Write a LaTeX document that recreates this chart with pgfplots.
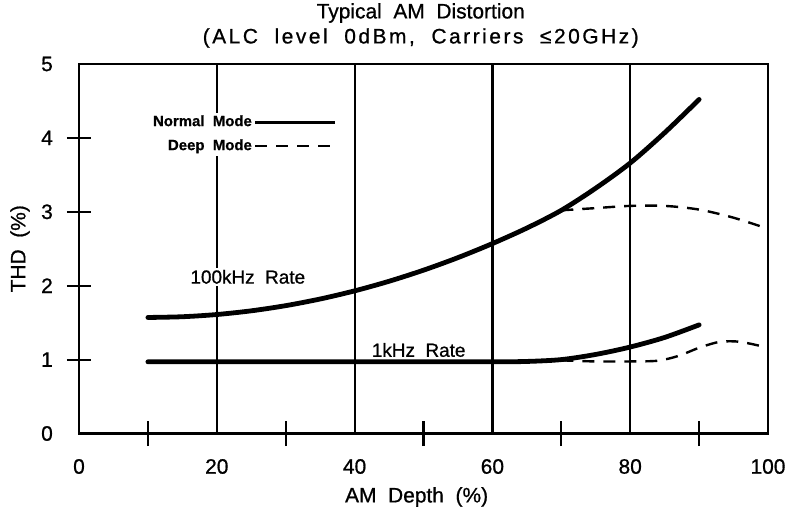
\documentclass[border=0pt]{standalone}
\usepackage{fontspec}
\setmainfont{Liberation Sans}[FakeBold=0.8]
\usepackage{pgfplots}
\pgfplotsset{compat=1.18}
\begin{document}
\begin{tikzpicture}
\begin{axis}[
  scale only axis, width=344.5bp, height=184.75bp,
  xmin=0, xmax=100, ymin=0, ymax=5,
  clip=false,
  axis line style={line width=1.4bp},
  xtick={0,20,...,100}, ytick={0,1,...,5},
  major tick length=0pt,
  xtick pos=bottom, ytick pos=left,
  xmajorgrids, major x grid style={line width=1.1bp, black},
  extra x ticks={10,30,50,70,90}, extra x tick labels={},
  extra x tick style={grid=none, major tick length=12.5bp, tick align=center, tick style={line width=1.1bp, black}},
  extra y ticks={1,2,3,4}, extra y tick labels={},
  extra y tick style={grid=none, major tick length=12bp, tick align=center, tick style={line width=1.1bp, black}},
  /pgf/number format/assume math mode=true,
  tick label style={font=\fontsize{10.5}{12}\selectfont},
  xticklabel style={anchor=center, yshift=-16.5bp},
  yticklabel style={anchor=center, xshift=-16bp},
  legend style={at={(axis cs:37.6,4.05)}, anchor=east, draw=none, fill=white, inner sep=0.5bp,
    font=\bfseries\fontsize{7.5}{8}\selectfont, row sep=3.5bp, nodes={inner sep=0.8bp}},
  legend cell align=right, legend plot pos=right,
  legend image code/.code={\draw[#1] (0bp,0bp) -- (40bp,0bp);},
]
\coordinate (o) at (rel axis cs:0,0);
\addlegendimage{line width=1.6bp}
\addlegendentry{Normal\ \ Mode}
\addlegendimage{line width=1bp, dash pattern=on 6bp off 4.5bp}
\addlegendentry{Deep\ \ Mode}

\addplot[line width=2.4bp, smooth, line cap=round, forget plot] coordinates {
(10,1.57)(15,1.58)(20,1.61)(25,1.66)(30,1.73)(35,1.82)(40,1.93)(45,2.06)(50,2.21)
(55,2.38)(60,2.57)(65,2.78)(70,3.02)(75,3.32)(80,3.66)(85,4.07)(90,4.52)};
\addplot[line width=1.2bp, smooth, dash pattern=on 6bp off 4.5bp, forget plot] coordinates {
(70,3.02)(75,3.05)(80,3.08)(85,3.08)(90,3.03)(95,2.92)(100,2.77)};
\addplot[line width=2.4bp, smooth, line cap=round, forget plot] coordinates {
(10,0.97)(20,0.97)(30,0.97)(40,0.97)(50,0.97)(60,0.97)(65,0.975)(70,1.00)(75,1.07)
(80,1.17)(85,1.30)(90,1.47)};
\addplot[line width=1.2bp, smooth, dash pattern=on 6bp off 4.5bp, forget plot] coordinates {
(70,0.99)(75,0.975)(80,0.975)(84,0.985)(87,1.05)(90,1.16)(93,1.24)(96,1.24)(100,1.16)};

\node[fill=white, inner sep=1bp, font=\fontsize{9.5}{11}\selectfont] at (axis cs:24.5,2.12) {100kHz\ \ Rate};
\node[inner sep=1bp, font=\fontsize{9.5}{11}\selectfont] at (axis cs:49.3,1.13) {1kHz\ \ Rate};

\node[font=\fontsize{10.5}{12}\selectfont] at ([yshift=25.5bp]rel axis cs:0.496,1) {Typical\ \ AM\ \ Distortion};
\node[font=\fontsize{10.5}{12}\selectfont\addfontfeatures{LetterSpace=12}] at ([yshift=13bp]rel axis cs:0.496,1) {(ALC\ \ level\ \ 0dBm,\ \ Carriers\ \ ≤20GHz)};
\node[font=\fontsize{10.5}{12}\selectfont] at ([yshift=-31.75bp]rel axis cs:0.49,0) {AM\ \ Depth\ \ (\%)};
\node[font=\fontsize{10.5}{12}\selectfont, rotate=90] at ([xshift=-29.5bp]rel axis cs:0,0.5) {THD\ \ (\%)};
\end{axis}
\pgfresetboundingbox
\path[use as bounding box] ([shift={(-39.5bp,-41.25bp)}]o) rectangle ([shift={(357bp,216.75bp)}]o);
\end{tikzpicture}
\end{document}
